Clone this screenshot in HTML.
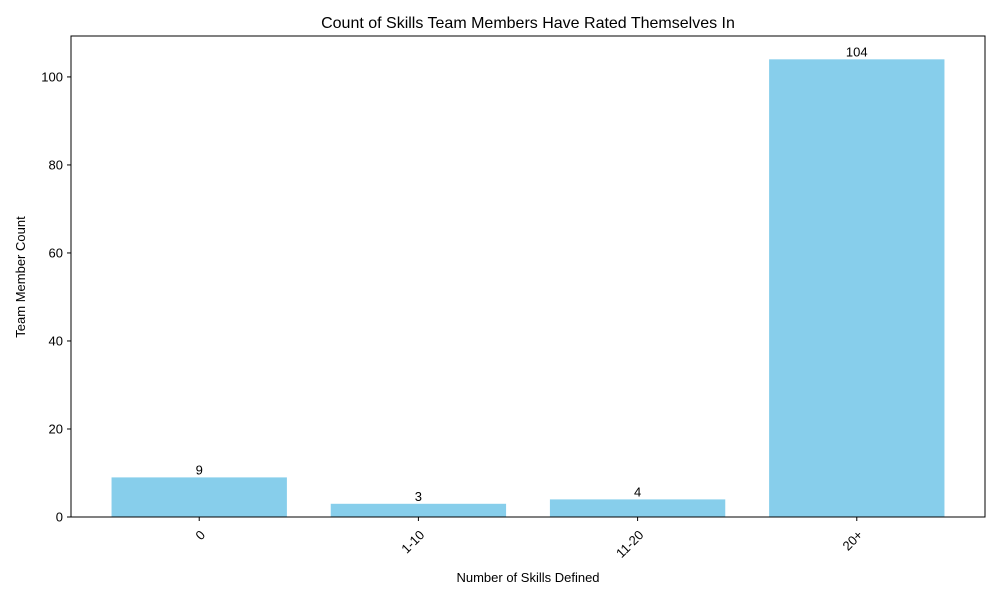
<!DOCTYPE html>
<html><head><meta charset="utf-8"><style>
body{margin:0;background:#fff;}
svg text{font-family:"Liberation Sans","DejaVu Sans",sans-serif;fill:#000;}
</style></head><body>
<svg id="chart" width="1000" height="600" xmlns="http://www.w3.org/2000/svg">
<rect width="1000" height="600" fill="#fff"/>
<text x="528" y="28" font-size="16" text-anchor="middle">Count of Skills Team Members Have Rated Themselves In</text>
<g id="bars"></g>
<g id="yaxis"></g>
<g id="xaxis"></g>
<rect x="71" y="36" width="914" height="481" fill="none" stroke="#000" stroke-width="1"/>
<text x="528" y="582" font-size="13" text-anchor="middle">Number of Skills Defined</text>
<text transform="translate(25,277) rotate(-90)" font-size="13" text-anchor="middle">Team Member Count</text>
</svg>
<script>
const categories = ["0","1-10","11-20","20+"];
const counts = [9,3,4,104];
const yTicks = [0,20,40,60,80,100];

const L=71,R=985,T=36,B=517;
const xMin=-0.585,xMax=3.585,yMin=0,yMax=109.3;
const xs=v=>L+(v-xMin)/(xMax-xMin)*(R-L);
const ys=v=>B-(v-yMin)/(yMax-yMin)*(B-T);
const NS="http://www.w3.org/2000/svg";
function mk(tag,attrs,parent,txt){const e=document.createElementNS(NS,tag);for(const k in attrs)e.setAttribute(k,attrs[k]);if(txt!==undefined)e.textContent=txt;parent.appendChild(e);return e;}
const gb=document.getElementById('bars'),gy=document.getElementById('yaxis'),gx=document.getElementById('xaxis');
categories.forEach((c,i)=>{
  const x0=xs(i-0.4),x1=xs(i+0.4),y=ys(counts[i]);
  const r=mk('rect',{x:x0,y:y,width:x1-x0,height:B-y,fill:'#87ceeb'},gb);
  
  
  const t=mk('text',{x:xs(i),y:y-3,'font-size':13,'text-anchor':'middle'},gb,String(counts[i]));
  
  
  const tk=mk('line',{x1:xs(i),x2:xs(i),y1:B,y2:B+4,stroke:'#000'},gx);
  
  
  const xl=mk('text',{transform:`translate(${xs(i)},${B+12}) rotate(-45)`,'font-size':13,'text-anchor':'end','dominant-baseline':'hanging'},gx,c);
  
  
});
yTicks.forEach(v=>{
  const y=ys(v);
  const tk=mk('line',{x1:L-4,x2:L,y1:y,y2:y,stroke:'#000'},gy);
  
  
  const t=mk('text',{x:L-8,y:y+4.5,'font-size':13,'text-anchor':'end'},gy,String(v));
  
  
});
</script>
</body></html>
